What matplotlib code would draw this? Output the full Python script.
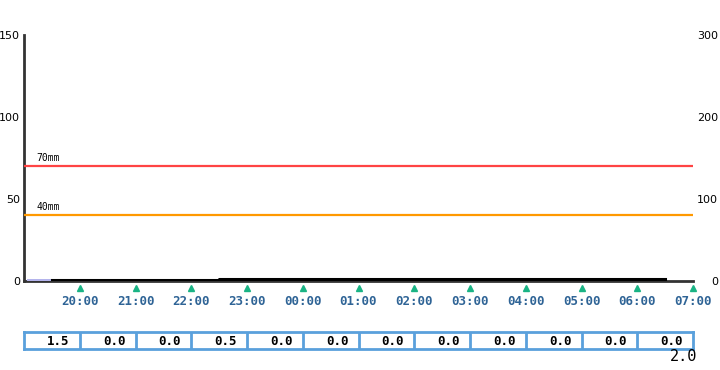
import matplotlib
matplotlib.use('Agg')
import matplotlib.pyplot as plt
import numpy as np

hours = ['20:00', '21:00', '22:00', '23:00', '00:00', '01:00',
         '02:00', '03:00', '04:00', '05:00', '06:00', '07:00']
rain = [1.5, 0.0, 0.0, 0.5, 0.0, 0.0, 0.0, 0.0, 0.0, 0.0, 0.0, 0.0]
left_ticks = [0, 50, 100, 150]
right_ticks = [0, 100, 200, 300]
warn_levels = [70, 40]
warn_colors = ['#ff4444', '#ff9900']

cum = np.cumsum(rain)
n = len(rain)
idx = np.arange(n)

fig = plt.figure(figsize=(7.2, 3.7), dpi=100)
ax = fig.add_axes([24 / 720, 89 / 370, 669 / 720, 246 / 370])
ax.set_xlim(0, n)
ax.set_ylim(0, 150)

ax.bar(idx + 0.45, rain, width=0.8, color='#b4b4ec', zorder=5)

for lvl, col in zip(warn_levels, warn_colors):
    ax.axhline(lvl, color=col, lw=1.6, zorder=3)
    ax.text(0.22, lvl + 2, f'{lvl}mm', fontsize=7, family='DejaVu Sans Mono',
            va='bottom', ha='left')

ax2 = ax.twinx()
ax2.set_ylim(0, 300)
ax2.step(idx + 0.5, cum, where='post', color='black', lw=2.2, zorder=4)

for a in (ax, ax2):
    for s in ['top', 'right']:
        a.spines[s].set_visible(False)
ax2.spines['left'].set_visible(False)
ax2.spines['bottom'].set_visible(False)
ax.spines['left'].set_color('#333333')
ax.spines['left'].set_linewidth(2)
ax.spines['bottom'].set_color('#333333')
ax.spines['bottom'].set_linewidth(2)
ax.spines['bottom'].set_zorder(1)

ax.set_xticks(idx + 1)
ax.set_xticklabels(hours, fontsize=9, fontweight='bold', family='DejaVu Sans Mono',
                   color='#2f6496')
ax.tick_params(axis='x', length=0, pad=10)
ax.plot(idx + 1, [-0.03] * n, marker='^', ls='none', ms=5, color='#19b384',
        transform=ax.get_xaxis_transform(), clip_on=False)

ax.set_yticks(left_ticks)
ax.set_yticklabels([str(t) for t in left_ticks], fontsize=8)
ax.tick_params(axis='y', length=0, pad=3)
ax2.set_yticks(right_ticks)
ax2.set_yticklabels([str(t) for t in right_ticks], fontsize=8)
ax2.tick_params(axis='y', length=0, pad=18)
for lab in ax2.get_yticklabels():
    lab.set_ha('right')

# hourly table
tb = fig.add_axes([24 / 720, 21 / 370, 669 / 720, 17 / 370])
tb.set_xlim(0, n)
tb.set_ylim(0, 1)
tb.set_xticks([])
tb.set_yticks([])
for s in tb.spines.values():
    s.set_color('#5aa0dc')
    s.set_linewidth(2)
for i in range(1, n):
    tb.axvline(i, color='#5aa0dc', lw=2)
for i, v in enumerate(rain):
    tb.text(i + 0.82, 0.45, f'{v:.1f}', ha='right', va='center', fontsize=9,
            fontweight='bold', family='DejaVu Sans Mono')

fig.text(697 / 720, 6 / 370, f'{cum[-1]:.1f}', ha='right', va='bottom', fontsize=11,
         family='DejaVu Sans Mono')

fig.savefig('out.png', dpi=100)
